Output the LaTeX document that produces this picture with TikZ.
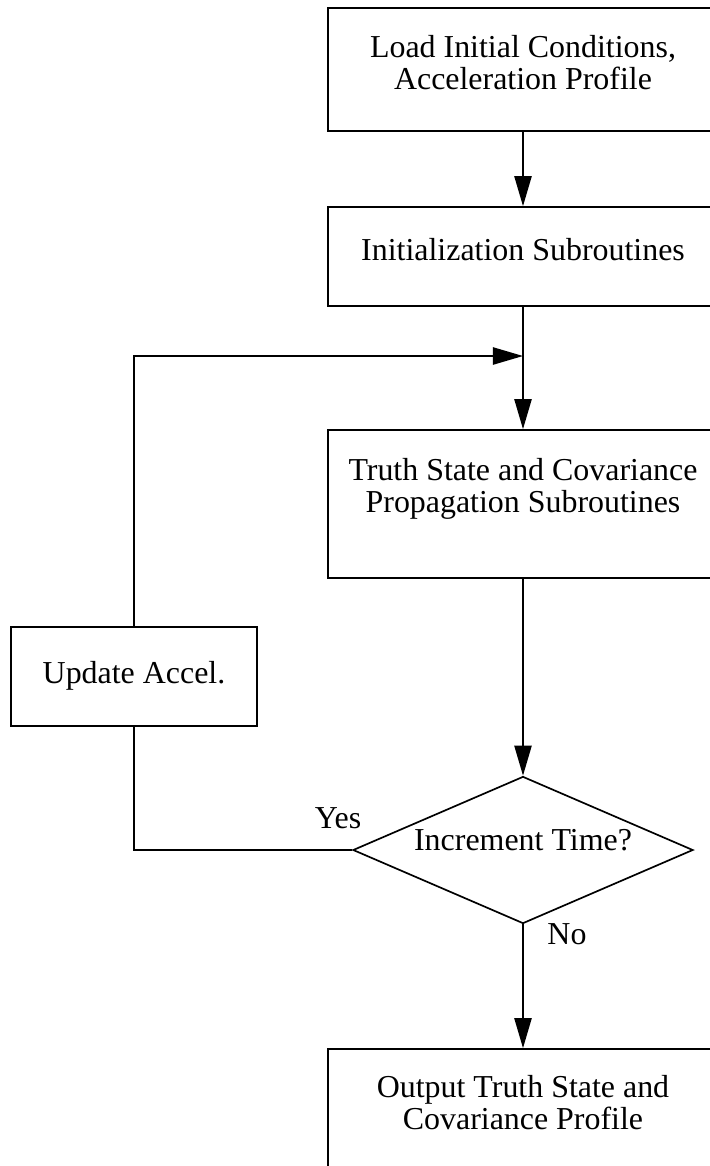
\documentclass[tikz,border=0pt]{standalone}
\usepackage{fontspec}
\setmainfont{Liberation Serif}
\usetikzlibrary{shapes.geometric,arrows.meta,positioning}
\newcommand{\flowfont}{\fontsize{22.7}{23.3}\selectfont}
\tikzstyle{block} = [draw, line width=1.2pt, rectangle, minimum width=9.75cm, inner sep=0pt, align=center, font=\flowfont]
\tikzstyle{decision} = [draw, line width=1.2pt, diamond, aspect=2.3, minimum width=8.5cm, minimum height=3.675cm, inner sep=0pt, text height=0.53cm, text depth=0.53cm, font=\flowfont]
\tikzstyle{tag} = [inner sep=0pt, font=\flowfont]
\tikzstyle{flow} = [line width=1.2pt, -{Triangle[length=0.75cm,width=0.43cm]}]
\tikzstyle{link} = [line width=1.2pt]
\begin{document}
\begin{tikzpicture}[x=0.025cm,y=-0.025cm]
  \useasboundingbox (0,0) rectangle (710,1166);
  \clip (0,0) rectangle (710,1166);

  % main column
  \node[block, minimum height=3.075cm, text depth=0.35cm] (load) at (523,69.5)
    {Load Initial Conditions,\\Acceleration Profile};
  \node[block, minimum height=2.475cm, text depth=0.375cm] (init) at (523,256.5)
    {Initialization Subroutines};
  \node[block, minimum height=3.7cm, text depth=0.925cm] (prop) at (523,504)
    {Truth State and Covariance\\Propagation Subroutines};
  \node[decision] (inc) at (523,850) {Increment Time?};
  \node[block, minimum height=3.7cm, text depth=1.025cm] (out) at (523,1123)
    {Output Truth State and\\Covariance Profile};

  % loop back
  \node[block, minimum width=6.15cm, minimum height=2.475cm, text depth=0.225cm] (upd) at (134,676.5)
    {Update Accel.};
  \coordinate (merge) at (523,356);

  \node[tag, anchor=base] (yes) at (338,828) {Yes};
  \node[tag, anchor=base] (no) at (567,944) {No};

  \draw[flow] (load) -- (init);
  \draw[flow] (init) -- (prop);
  \draw[flow] (prop) -- (inc);
  \draw[flow] (inc) -- (out);
  \draw[link] (inc.west) -| (upd.south);
  \draw[flow] (upd.north) |- (merge);
\end{tikzpicture}
\end{document}
